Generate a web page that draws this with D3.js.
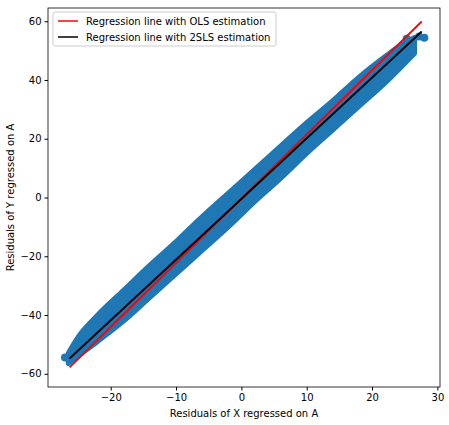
<!DOCTYPE html>
<html><head><meta charset="utf-8">
<script src="https://cdn.jsdelivr.net/npm/d3@7"></script>
<style>body{margin:0;background:#fff}text{font-family:"DejaVu Sans",sans-serif}</style>
</head><body><svg id="chart" width="449" height="425"></svg>
<script>
// band of scatter points, read as envelope from picture
var bandX = [-26.5, -25, -22, -18, -14, -10, -6, -2, 2, 6, 10, 14, 18, 22, 24.5, 26.5];
var bandLo = [-56.5, -54, -49, -42, -34, -26, -18, -10, -1.5, 6.5, 15, 23, 31, 39, 44.5, 49];
var bandHi = [-53, -47.5, -40, -31.5, -23, -15, -6.5, 1.5, 9.5, 17.5, 25.5, 33, 41, 48, 52, 54.5];
var outliers = [[-27, -54.5], [25.3, 54], [27.2, 54.8], [28, 54.4]];
var olsLine = [[-26.3, -57.8], [27.6, 59.9]];
var tslsLine = [[-26.3, -54.8], [27.6, 56.5]];
var xTicks = [-20, -10, 0, 10, 20, 30];
var yTicks = [-60, -40, -20, 0, 20, 40, 60];

var svg = d3.select('#chart');
var m = {l: 48, r: 9, t: 8, b: 38};
var W = 449, H = 425;
var x = d3.scaleLinear().domain([-29.6, 30.4]).range([m.l, W - m.r]);
var y = d3.scaleLinear().domain([-64.5, 64.5]).range([H - m.b, m.t]);

var g = svg.append('g');
var blue = '#1f77b4';
var area = d3.area().x((d, i) => x(bandX[i])).y0((d, i) => y(bandLo[i])).y1((d, i) => y(bandHi[i])).curve(d3.curveMonotoneX);
g.append('path').datum(bandX).attr('d', area).attr('fill', blue).attr('stroke', blue).attr('stroke-width', 5).attr('stroke-linejoin', 'round');
g.selectAll('.o').data(outliers).enter().append('circle')
  .attr('cx', d => x(d[0])).attr('cy', d => y(d[1])).attr('r', 4).attr('fill', blue);

var line = d3.line().x(d => x(d[0])).y(d => y(d[1]));
g.append('path').attr('d', line(olsLine)).attr('stroke', 'red').attr('stroke-width', 1.8).attr('fill', 'none');
g.append('path').attr('d', line(tslsLine)).attr('stroke', 'black').attr('stroke-width', 1.8).attr('fill', 'none');

svg.append('g').attr('transform', 'translate(0,' + (H - m.b) + ')')
  .call(d3.axisBottom(x).tickValues(xTicks).tickSize(3.5).tickPadding(3))
  .call(a => a.select('.domain').remove()).selectAll('text').attr('font-size', 10).attr('fill', '#000');
svg.append('g').attr('transform', 'translate(' + m.l + ',0)')
  .call(d3.axisLeft(y).tickValues(yTicks).tickSize(3.5).tickPadding(3))
  .call(a => a.select('.domain').remove()).selectAll('text').attr('font-size', 10).attr('fill', '#000');
svg.append('rect').attr('x', m.l).attr('y', m.t).attr('width', W - m.l - m.r).attr('height', H - m.t - m.b)
  .attr('fill', 'none').attr('stroke', '#000').attr('stroke-width', 0.8);

svg.append('text').attr('x', (m.l + W - m.r) / 2).attr('y', H - 8).attr('text-anchor', 'middle')
  .attr('font-size', 10).text('Residuals of X regressed on A');
svg.append('text').attr('transform', 'translate(14,' + ((m.t + H - m.b) / 2) + ') rotate(-90)')
  .attr('text-anchor', 'middle').attr('font-size', 10).text('Residuals of Y regressed on A');

var leg = svg.append('g').attr('transform', 'translate(53,12)');
leg.append('rect').attr('width', 223).attr('height', 34).attr('rx', 2).attr('fill', '#fff')
  .attr('fill-opacity', 0.8).attr('stroke', '#ccc');
[['Regression line with OLS estimation', 'red'], ['Regression line with 2SLS estimation', 'black']].forEach((d, i) => {
  var yy = 9 + i * 16;
  leg.append('line').attr('x1', 5).attr('x2', 25).attr('y1', yy).attr('y2', yy).attr('stroke', d[1]).attr('stroke-width', 1.5);
  leg.append('text').attr('x', 33).attr('y', yy + 3.5).attr('font-size', 10).text(d[0]);
});
</script></body></html>
